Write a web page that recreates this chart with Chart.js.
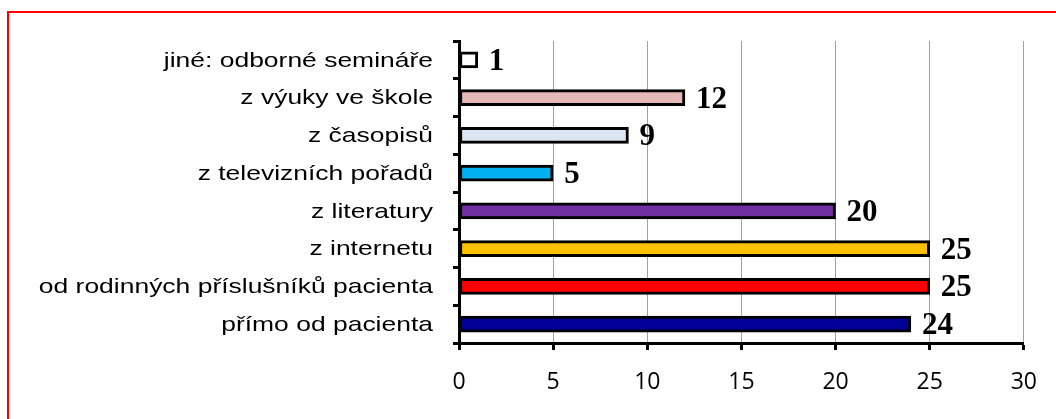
<!DOCTYPE html>
<html>
<head>
<meta charset="utf-8">
<script src="https://cdn.jsdelivr.net/npm/chart.js@4.4.0/dist/chart.umd.min.js"></script>
<style>
  html, body { margin: 0; padding: 0; background: #fff; }
  .frame {
    position: absolute; left: 7px; top: 11px; width: 1060px; height: 420px;
    border-top: 2px solid #ff0000; border-left: 2px solid #ff0000;
  }
  .wrap { position: absolute; left: 0; top: 0; width: 1056px; height: 419px; }
</style>
</head>
<body>
<div class="frame"></div>
<div class="wrap"><canvas id="chart" width="1056" height="419"></canvas></div>
<script>
// kategorie odshora dolů
const categories = [
  'jiné: odborné semináře',
  'z výuky ve škole',
  'z časopisů',
  'z televizních pořadů',
  'z literatury',
  'z internetu',
  'od rodinných příslušníků pacienta',
  'přímo od pacienta'
];
const counts = [1, 12, 9, 5, 20, 25, 25, 24];
const barColors = ['#ffffff', '#e6b9b8', '#dce6f2', '#00b0f0', '#7030a0', '#ffc000', '#ff0000', '#000099'];
const xTicks = [0, 5, 10, 15, 20, 25, 30];

// popisky hodnot za koncem sloupců
const valueLabels = {
  id: 'valueLabels',
  afterDatasetsDraw(chart) {
    const ctx = chart.ctx;
    const meta = chart.getDatasetMeta(0);
    ctx.save();
    ctx.font = 'bold 31px "Liberation Serif", "Times New Roman", serif';
    ctx.fillStyle = '#000';
    ctx.textAlign = 'left';
    ctx.textBaseline = 'middle';
    meta.data.forEach((bar, i) => {
      ctx.fillText(String(counts[i]), bar.x + 11, bar.y + 2);
    });
    ctx.restore();
  }
};

// názvy kategorií - v předloze jsou roztažené do šířky
const catLabels = {
  id: 'catLabels',
  afterDraw(chart) {
    const ctx = chart.ctx;
    const scale = chart.scales.y;
    const right = chart.chartArea.left - 26;
    ctx.save();
    ctx.font = '21px "Liberation Sans", Arial, sans-serif';
    ctx.fillStyle = '#000';
    ctx.textAlign = 'right';
    ctx.textBaseline = 'middle';
    categories.forEach((c, i) => {
      ctx.save();
      ctx.translate(right, scale.getPixelForTick(i) + 1);
      ctx.scale(1.26, 1);
      ctx.fillText(c, 0, 0);
      ctx.restore();
    });
    ctx.restore();
  }
};

new Chart(document.getElementById('chart'), {
  type: 'bar',
  data: {
    labels: categories,
    datasets: [{
      data: counts,
      backgroundColor: barColors,
      borderColor: '#000',
      borderWidth: 3,
      borderSkipped: false,
      barThickness: 16,
    }]
  },
  options: {
    indexAxis: 'y',
    responsive: false,
    animation: false,
    layout: { padding: { top: 41, right: 31, left: 0, bottom: 0 } },
    plugins: {
      legend: { display: false },
      tooltip: { enabled: false },
    },
    scales: {
      x: {
        min: 0,
        max: 30,
        afterBuildTicks: scale => { scale.ticks = xTicks.map(v => ({ value: v })); },
        afterFit: scale => { scale.height = 76; },
        border: { color: '#000', width: 3 },
        grid: {
          color: '#a0a0a0',
          lineWidth: 1,
          tickColor: '#000',
          tickWidth: 3,
          tickLength: 7,
        },
        ticks: {
          color: '#000',
          padding: 19,
          font: { family: '"Open Sans", "Noto Sans", sans-serif', size: 23 },
        },
      },
      y: {
        afterFit: scale => { scale.width = 459; },
        border: { color: '#000', width: 3 },
        grid: {
          drawOnChartArea: false,
          tickColor: '#000',
          tickWidth: 3,
          tickLength: 6,
        },
        ticks: { display: false },
      },
    },
  },
  plugins: [valueLabels, catLabels],
});
</script>
</body>
</html>
